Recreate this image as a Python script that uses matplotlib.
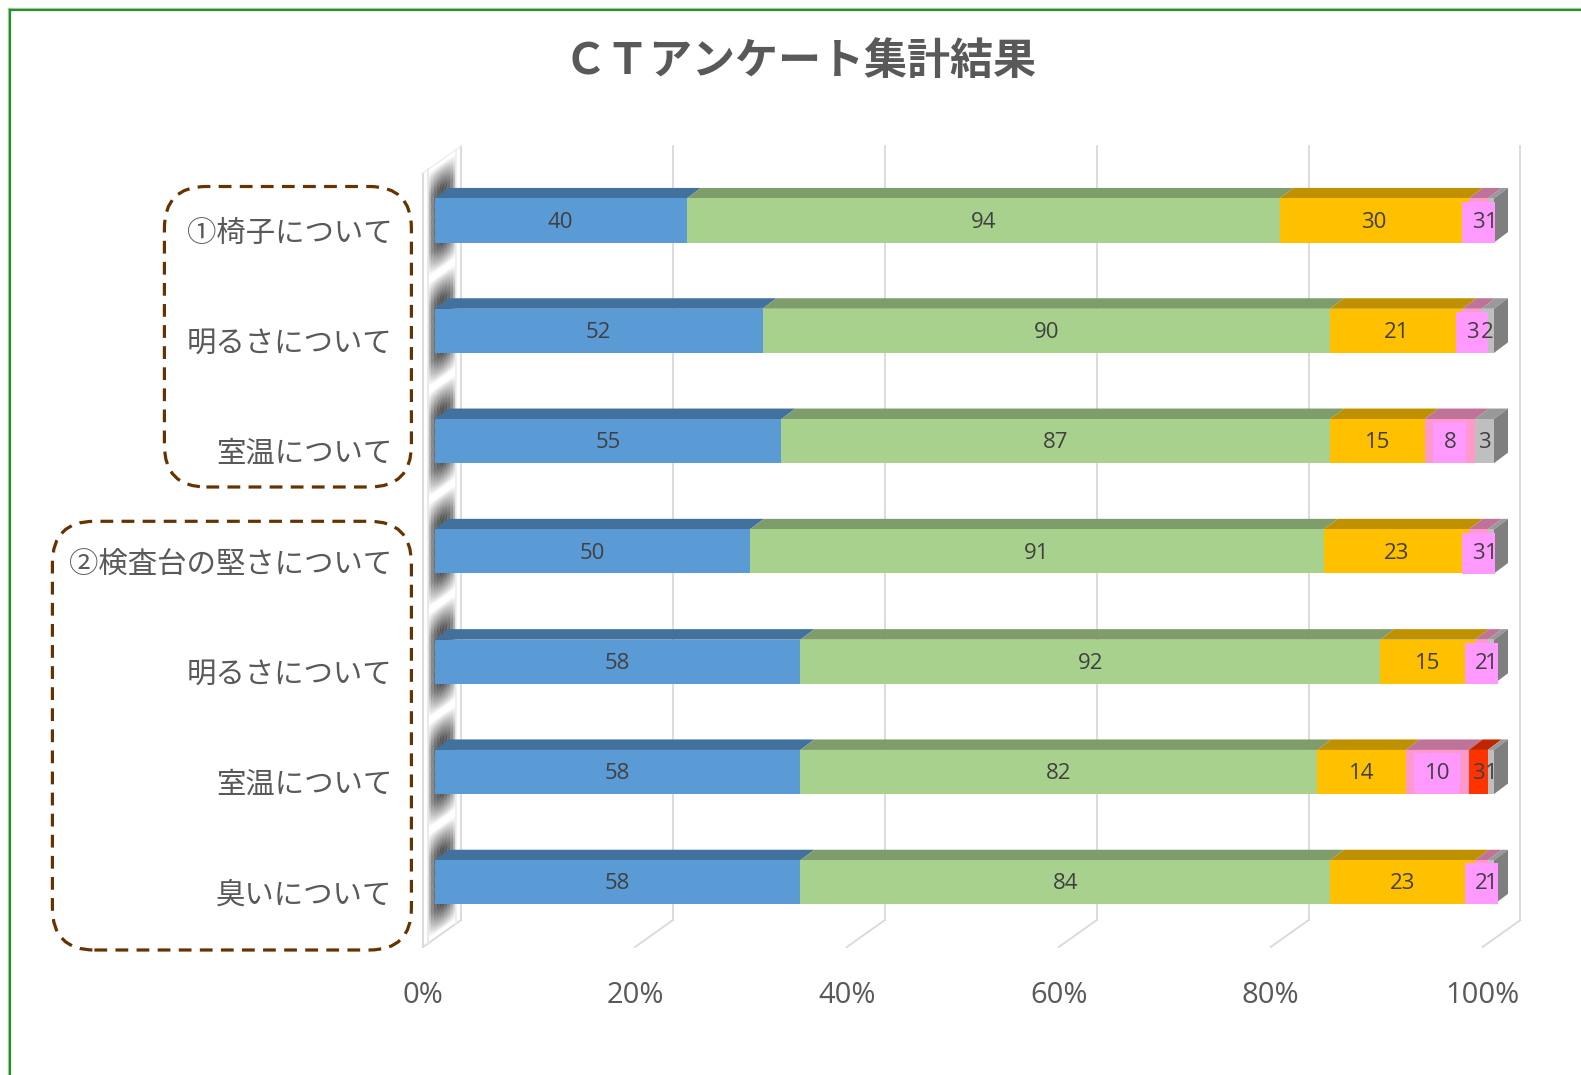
import numpy as np
import matplotlib
matplotlib.use('Agg')
import matplotlib.pyplot as plt
from matplotlib.patches import Polygon, FancyBboxPatch
from matplotlib.collections import PolyCollection
from matplotlib.lines import Line2D
from matplotlib.transforms import ScaledTranslation

plt.rcParams['font.family'] = ['Noto Sans CJK JP', 'DejaVu Sans']

title = 'ＣＴアンケート集計結果'
categories = ['①椅子について', '明るさについて', '室温について',
              '②検査台の堅さについて', '明るさについて', '室温について', '臭いについて']

# answer counts per question (series order left -> right)
s_blue = [40, 52, 55, 50, 58, 58, 58]
s_green = [94, 90, 87, 91, 92, 82, 84]
s_yellow = [30, 21, 15, 23, 15, 14, 23]
s_pink = [3, 3, 8, 3, 2, 10, 2]
s_red = [0, 0, 0, 0, 0, 3, 0]
s_gray = [1, 2, 3, 1, 1, 1, 1]

xticks = [0, 20, 40, 60, 80, 100]
xtick_labels = ['0%', '20%', '40%', '60%', '80%', '100%']

series = [s_blue, s_green, s_yellow, s_pink, s_red, s_gray]
front = ['#5B9BD5', '#A9D18E', '#FFC000', '#FF99CC', '#FF3300', '#BFBFBF']
top = ['#41719C', '#7F9D6B', '#BF9000', '#BF7399', '#BF2600', '#999999']
side = '#7F7F7F'
label_box = [None, None, None, '#FF99FF', None, None]
num_font = ['Open Sans', 'DejaVu Sans']

W, H = 1581, 1075
fig = plt.figure(figsize=(W / 100, H / 100), dpi=100)

# axes: 0..100 -> px 434.6..1494, category i centre -> px 220.5 + i*110.3
pxx = 10.594
pxy = 110.3
xl = (-4, 104)
yl = (6.7, -0.75)
L = 434.6 + xl[0] * pxx
R = 434.6 + xl[1] * pxx
T = 220.5 + yl[1] * pxy
B = 220.5 + yl[0] * pxy
ax = fig.add_axes([L / W, 1 - B / H, (R - L) / W, (B - T) / H])
ax.set_xlim(*xl)
ax.set_ylim(*yl)
for sp in ax.spines.values():
    sp.set_visible(False)

n = len(categories)
y = np.arange(n)
data = np.array(series, dtype=float)
pct = data / data.sum(axis=0) * 100

# depth vectors (data units)
bdx, bdy = 14 / pxx, -10.5 / pxy          # bar depth
fx, bx = -11.5 / pxx, 26.5 / pxx          # floor front / back wall offsets
fy_top, by_top = -0.431, -0.675
fy_bot, by_bot = 6.587, 6.342
slope = (by_top - fy_top) / (bx - fx)

grid_c = '#D9D9D9'
# back wall gridlines + floor lines
for t in xticks:
    ax.add_line(Line2D([t + bx, t + bx], [by_top, by_bot], color=grid_c, lw=1.3, zorder=1))
    ax.add_line(Line2D([t + bx, t + fx], [by_bot, fy_bot], color=grid_c, lw=1.3, zorder=1))
# left wall front edge
ax.add_line(Line2D([fx, fx], [fy_top, fy_bot], color=grid_c, lw=1.3, zorder=1))
ax.add_line(Line2D([fx, bx], [fy_top, by_top], color='#EEEEEE', lw=1, zorder=1))

# shadow on the left wall
wa, wb = -0.62, 2.02
nu, nv = 10, 700
vs = np.linspace(fy_top + 0.02, fy_bot - 0.02, nv + 1)
us = np.linspace(0, 1, nu + 1)
polys, cols = [], []
for j in range(nv):
    v0, v1 = vs[j], vs[j + 1]
    vm = 0.5 * (v0 + v1) + slope * (0 - fx)
    d = np.abs(vm - np.round(vm))
    dark = np.clip((0.47 - d) / 0.22, 0, 1) ** 0.9
    for k in range(nu):
        u0, u1 = us[k], us[k + 1]
        x0 = wa + u0 * (wb - wa)
        x1 = wa + u1 * (wb - wa)
        um = 0.5 * (u0 + u1)
        h = np.sin(np.pi * um) ** 0.5
        a = 0.74 * dark * h
        polys.append([(x0, v0 + slope * (x0 - fx)), (x1, v0 + slope * (x1 - fx)),
                      (x1, v1 + slope * (x1 - fx)), (x0, v1 + slope * (x0 - fx))])
        cols.append((0, 0, 0, a))
ax.add_collection(PolyCollection(polys, facecolors=cols, edgecolors='none', zorder=1.5))
ax.add_line(Line2D([wa, wa], [fy_top + slope * (wa - fx), fy_bot + slope * (wa - fx)],
                   color='#E6E6E6', lw=1.2, zorder=1.6))
ax.add_line(Line2D([wb, wb], [fy_top + slope * (wb - fx), fy_bot + slope * (wb - fx)],
                   color='#EDEDED', lw=1.2, zorder=1.6))

# bars
bh = 0.4
left = np.zeros(n)
for k, (vals, fc) in enumerate(zip(pct, front)):
    ax.barh(y, vals, left=left, height=bh, color=fc, zorder=3)
    for i in range(n):
        if vals[i] <= 0:
            continue
        l, w = left[i], vals[i]
        yt = y[i] - bh / 2
        ax.add_patch(Polygon([(l, yt), (l + w, yt), (l + w + bdx, yt + bdy), (l + bdx, yt + bdy)],
                             closed=True, fc=top[k], ec='none', zorder=2.5))
    left = left + vals

for i in range(n):
    yt, yb = y[i] - bh / 2, y[i] + bh / 2
    ax.add_patch(Polygon([(100, yt), (100 + bdx, yt + bdy), (100 + bdx, yb + bdy), (100, yb)],
                         closed=True, fc=side, ec='none', zorder=2.5))

# data labels
left = np.zeros(n)
for k, vals in enumerate(pct):
    for i in range(n):
        if data[k][i] > 0:
            kw = {}
            if label_box[k]:
                kw['bbox'] = dict(boxstyle='square,pad=0.45', fc=label_box[k], ec='none')
            ax.text(left[i] + vals[i] / 2, y[i] + 0.015, f'{int(data[k][i])}', ha='center', va='center',
                    fontsize=16, color='#404040', family=num_font, zorder=5 + k, **kw)
    left = left + vals

# axis labels
ax.set_yticks(y, categories)
ax.tick_params(axis='y', length=0, pad=0, labelsize=21.2, labelcolor='#595959')
for lab in ax.get_yticklabels():
    lab.set_transform(lab.get_transform() + ScaledTranslation(0.0, -0.09, fig.dpi_scale_trans))
ax.set_xticks(xticks, xtick_labels)
ax.tick_params(axis='x', length=0, pad=14, labelsize=21, labelcolor='#595959')
for lab in ax.get_xticklabels():
    lab.set_family(num_font)
    lab.set_transform(lab.get_transform() + ScaledTranslation(-0.115, -0.02, fig.dpi_scale_trans))

fig.text(800 / W, 1 - 60.5 / H, title, ha='center', va='center', fontsize=31,
         fontweight='bold', color='#595959')

# dashed group boxes
brown = '#663300'
for (x0, y0, x1, y1) in [(164.4, 186.5, 411.4, 487), (52.4, 521.3, 411.4, 950)]:
    fig.patches.append(FancyBboxPatch((x0 / 100, (H - y1) / 100), (x1 - x0) / 100, (y1 - y0) / 100,
                                      boxstyle='round,pad=0,rounding_size=0.42',
                                      transform=fig.dpi_scale_trans, fill=False,
                                      ec=brown, lw=2.3, ls=(0, (4, 2.6))))

# green frame
fig.add_artist(Line2D([7.5 / W, 7.5 / W], [0, 1 - 7.5 / H], transform=fig.transFigure, color='#A5D6A7', lw=1))
fig.add_artist(Line2D([7.5 / W, 1], [1 - 7.5 / H, 1 - 7.5 / H], transform=fig.transFigure, color='#A5D6A7', lw=1))
fig.add_artist(Line2D([10 / W, 10 / W], [0, 1 - 10 / H], transform=fig.transFigure, color='#2E8B2E', lw=1.6))
fig.add_artist(Line2D([10 / W, 1], [1 - 10 / H, 1 - 10 / H], transform=fig.transFigure, color='#2E8B2E', lw=1.6))

fig.savefig('out.png', dpi=100)
